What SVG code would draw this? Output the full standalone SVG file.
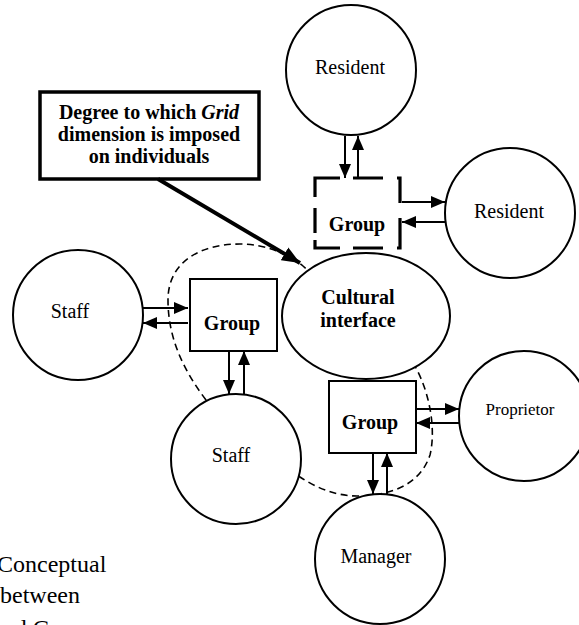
<svg xmlns="http://www.w3.org/2000/svg" width="579" height="625" viewBox="0 0 579 625">
  <style>
    .node { fill: #fff; stroke: #000; stroke-width: 2; }
    .label { font-family: "Liberation Serif", "Times New Roman", serif; font-size: 20px; fill: #000; text-anchor: middle; }
    .bold { font-weight: bold; }
    .conn { stroke: #000; stroke-width: 2; fill: none; }
    .boundary { stroke: #000; stroke-width: 1.6; fill: none; stroke-dasharray: 7 4.5; }
    .dashbox { stroke: #000; stroke-width: 3.2; fill: none; stroke-linecap: butt; }
    .caption { font-family: "Liberation Serif", "Times New Roman", serif; font-size: 24px; fill: #000; }
  </style>
  <defs>
    <marker id="arrow" markerUnits="userSpaceOnUse" markerWidth="14" markerHeight="12" refX="14" refY="6" orient="auto">
      <path d="M0,0 L14,6 L0,12 Z" fill="#000"/>
    </marker>
    <marker id="arrow-big" markerUnits="userSpaceOnUse" markerWidth="18" markerHeight="15" refX="18" refY="7.5" orient="auto">
      <path d="M0,0 L18,7.5 L0,15 Z" fill="#000"/>
    </marker>
  </defs>

  <!-- dashed boundary around the cultural interface region -->
  <g id="interface-boundary">
    <path class="boundary" d="M206,400 C185,372 168,340 168,300 C168,262 200,244 240,244 C265,244 288,254 303,266 L330,290 L400,350 C410,358 414,364 417,370 C430,395 436,430 430,455 C420,485 390,496 357,496 C335,496 315,487 300,477 Z"/>
  </g>

  <!-- nodes -->
  <g id="resident-top">
    <circle class="node" cx="351" cy="70" r="65"/>
    <text class="label" x="350" y="74">Resident</text>
  </g>
  <g id="resident-right">
    <circle class="node" cx="510" cy="213" r="65"/>
    <text class="label" x="509" y="218">Resident</text>
  </g>
  <g id="group-residents">
    <rect x="315" y="178" width="85" height="70" fill="#fff" stroke="none"/>
    <path class="dashbox" d="M315,197 V178 H340 M353,178 H383 M397,178 H400 V203 M400,218 V248 H397 M383,248 H353 M340,248 H315 V240 M315,233 V208"/>
    <text class="label bold" x="357" y="231">Group</text>
  </g>
  <g id="staff-left">
    <circle class="node" cx="78" cy="315" r="65"/>
    <text class="label" x="70" y="318">Staff</text>
  </g>
  <g id="group-staff">
    <rect class="node" x="190" y="279" width="87" height="72"/>
    <text class="label bold" x="232" y="330">Group</text>
  </g>
  <g id="cultural-interface">
    <ellipse class="node" cx="366" cy="316" rx="84" ry="63"/>
    <text class="label bold" x="358" y="304">Cultural</text>
    <text class="label bold" x="358" y="327">interface</text>
  </g>
  <g id="staff-bottom">
    <circle class="node" cx="236" cy="459" r="65"/>
    <text class="label" x="231" y="462">Staff</text>
  </g>
  <g id="group-management">
    <rect class="node" x="329" y="381" width="87" height="72"/>
    <text class="label bold" x="370" y="429">Group</text>
  </g>
  <g id="proprietor">
    <circle class="node" cx="524" cy="416" r="65"/>
    <text class="label" x="520" y="415" style="font-size:17px">Proprietor</text>
  </g>
  <g id="manager">
    <circle class="node" cx="380" cy="559" r="65"/>
    <text class="label" x="376" y="563">Manager</text>
  </g>

  <!-- callout -->
  <g id="grid-callout">
    <rect x="40" y="92" width="219" height="87" fill="#fff" stroke="#000" stroke-width="3.5"/>
    <text class="label bold" x="149" y="119">Degree to which <tspan font-style="italic">Grid</tspan></text>
    <text class="label bold" x="149" y="141">dimension is imposed</text>
    <text class="label bold" x="149" y="163">on individuals</text>
  </g>

  <!-- connectors -->
  <g id="connectors">
    <line class="conn" x1="345" y1="136" x2="345" y2="178" marker-end="url(#arrow)"/>
    <line class="conn" x1="358" y1="178" x2="358" y2="136" marker-end="url(#arrow)"/>
    <line class="conn" x1="402" y1="202" x2="445" y2="202" marker-end="url(#arrow)"/>
    <line class="conn" x1="445" y1="222" x2="402" y2="222" marker-end="url(#arrow)"/>

    <line class="conn" x1="143" y1="308" x2="188" y2="308" marker-end="url(#arrow)"/>
    <line class="conn" x1="188" y1="323" x2="143" y2="323" marker-end="url(#arrow)"/>
    <line class="conn" x1="229" y1="351" x2="229" y2="394" marker-end="url(#arrow)"/>
    <line class="conn" x1="244" y1="394" x2="244" y2="351" marker-end="url(#arrow)"/>

    <line class="conn" x1="416" y1="409" x2="459" y2="409" marker-end="url(#arrow)"/>
    <line class="conn" x1="459" y1="423" x2="416" y2="423" marker-end="url(#arrow)"/>
    <line class="conn" x1="373" y1="453" x2="373" y2="494" marker-end="url(#arrow)"/>
    <line class="conn" x1="387" y1="494" x2="387" y2="453" marker-end="url(#arrow)"/>

    <line x1="158" y1="179" x2="300" y2="263" stroke="#000" stroke-width="4" marker-end="url(#arrow-big)"/>
  </g>

  <!-- caption -->
  <g id="caption">
    <text class="caption" x="-3" y="572">Conceptual</text>
    <text class="caption" x="0" y="603">between</text>
    <text class="caption" x="-8" y="636">and Group</text>
  </g>
</svg>
